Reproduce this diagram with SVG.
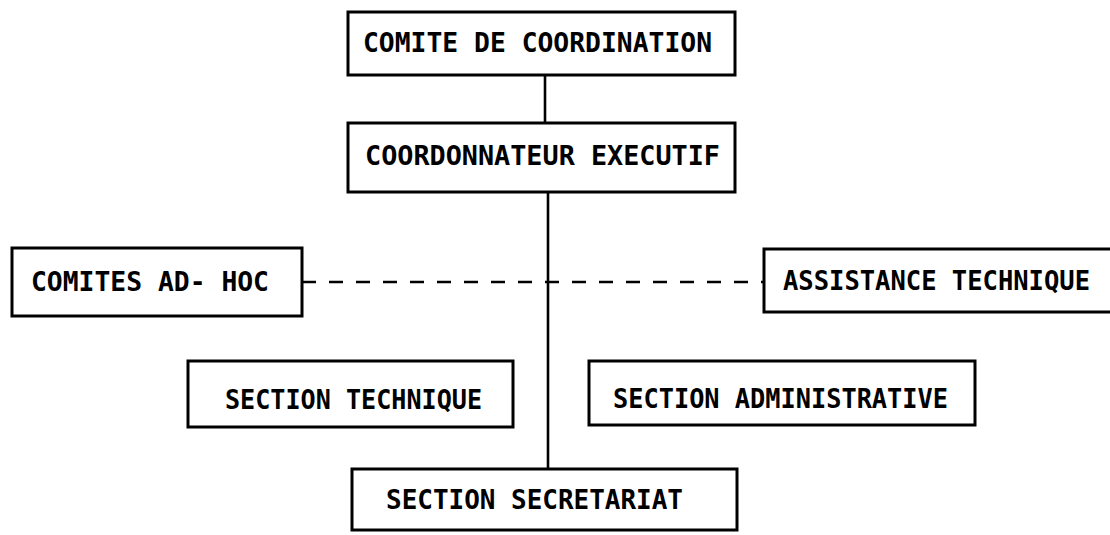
<svg xmlns="http://www.w3.org/2000/svg" width="1110" height="535" viewBox="0 0 1110 535">
  <style>
    .box { fill: #ffffff; stroke: #000000; stroke-width: 3; }
    .lbl { font-family: "DejaVu Sans Mono", "Liberation Mono", monospace; font-weight: bold; font-size: 27px; fill: #000000; }
    .solid { stroke: #000000; stroke-width: 2.6; fill: none; }
    .dash { stroke: #000000; stroke-width: 2.6; fill: none; stroke-dasharray: 14 13; }
  </style>
  <rect width="1110" height="535" fill="#ffffff"/>

  <!-- connectors -->
  <g id="connectors">
    <line class="solid" x1="545" y1="75" x2="545" y2="123"/>
    <line class="solid" x1="548" y1="192" x2="548" y2="469"/>
    <line class="dash" x1="302" y1="282" x2="764" y2="282"/>
  </g>

  <g id="comite-coordination">
    <rect class="box" x="348" y="12" width="387" height="63"/>
    <text class="lbl" x="363" y="52" textLength="349" lengthAdjust="spacingAndGlyphs">COMITE DE COORDINATION</text>
  </g>

  <g id="coordonnateur-executif">
    <rect class="box" x="348" y="123" width="387" height="69"/>
    <text class="lbl" x="365" y="165" textLength="355" lengthAdjust="spacingAndGlyphs">COORDONNATEUR EXECUTIF</text>
  </g>

  <g id="comites-ad-hoc">
    <rect class="box" x="12" y="248" width="290" height="68"/>
    <text class="lbl" x="31" y="291" textLength="238" lengthAdjust="spacingAndGlyphs">COMITES AD- HOC</text>
  </g>

  <g id="assistance-technique">
    <rect class="box" x="764" y="249" width="352" height="63"/>
    <text class="lbl" x="783" y="290" textLength="307" lengthAdjust="spacingAndGlyphs">ASSISTANCE TECHNIQUE</text>
  </g>

  <g id="section-technique">
    <rect class="box" x="188" y="361" width="325" height="66"/>
    <text class="lbl" x="225" y="409" textLength="257" lengthAdjust="spacingAndGlyphs">SECTION TECHNIQUE</text>
  </g>

  <g id="section-administrative">
    <rect class="box" x="589" y="361" width="386" height="64"/>
    <text class="lbl" x="613" y="408" textLength="335" lengthAdjust="spacingAndGlyphs">SECTION ADMINISTRATIVE</text>
  </g>

  <g id="section-secretariat">
    <rect class="box" x="352" y="469" width="385" height="61"/>
    <text class="lbl" x="386" y="509" textLength="297" lengthAdjust="spacingAndGlyphs">SECTION SECRETARIAT</text>
  </g>
</svg>
